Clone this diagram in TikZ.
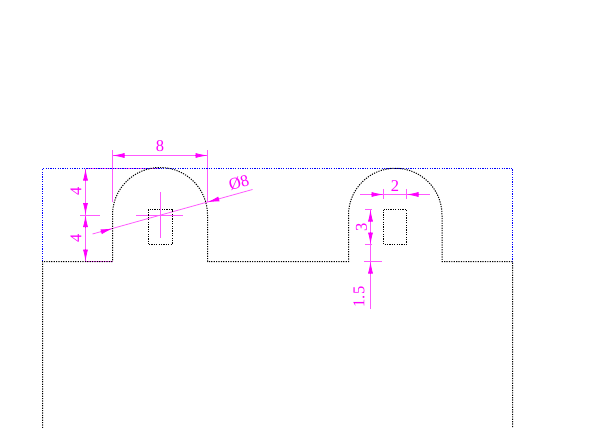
\documentclass[tikz,border=0pt]{standalone}
\usepackage{fontspec}
\setmainfont{Liberation Serif}
\usetikzlibrary{arrows.meta}
\definecolor{dimcolor}{RGB}{255,0,255}
\definecolor{dimpale}{RGB}{255,90,255}
\definecolor{partblue}{RGB}{0,0,255}
\tikzset{part line/.style={black,line width=1pt,dash pattern=on 1.2pt off 1.2pt},
	top line/.style={partblue,line width=1pt,dash pattern=on 1.2pt off 1.2pt},
	dim line/.style={dimpale,line width=0.8pt},
	dim tip/.style={dimcolor,line width=0.8pt,-{Latex[length=12pt,width=5pt]}},
	dim text/.style={dimcolor,font=\fontsize{16.5}{16.5}\selectfont,inner sep=0pt},
}

\begin{document}
\begin{tikzpicture}[x=1pt,y=-1pt]
	\useasboundingbox (0,0) rectangle (600,428);
	\coordinate (tl) at (42.5,168.5);
	\coordinate (tr) at (512.5,168.5);
	\coordinate (ml) at (42.5,261.5);
	\coordinate (mr) at (512.5,261.5);
	\coordinate (bl) at (42.5,428);
	\coordinate (br) at (512.5,428);

	% centre marks
	\draw[dim line] (136,215) -- (183,215);
	\draw[dim line] (160,192) -- (160,238);

	% width of the left arc
	\draw[dim line] (112.5,150) -- (112.5,202);
	\draw[dim line] (207.5,150) -- (207.5,202);
	\draw[dim line] (112.5,155.5) -- (207.5,155.5);
	\draw[dim tip] (125,155.5) -- (112.5,155.5);
	\draw[dim tip] (195,155.5) -- (207.5,155.5);
	\node[dim text] (t8) at (160,146) {8};

	% heights on the left
	\draw[dim line] (85.5,168.5) -- (160,168.5);
	\draw[dim line] (85.5,168.5) -- (85.5,261.5);
	\draw[dim line] (80,215) -- (99.5,215);
	\draw[dim line] (85.5,261.5) -- (112.5,261.5);
	\draw[dim tip] (85.5,181) -- (85.5,168.5);
	\draw[dim tip] (85.5,203) -- (85.5,215);
	\draw[dim tip] (85.5,227) -- (85.5,215);
	\draw[dim tip] (85.5,249) -- (85.5,261.5);
	\node[dim text,rotate=90] (t4a) at (76,191) {4};
	\node[dim text,rotate=90] (t4b) at (76,238) {4};

	% diameter
	\coordinate (d1) at (92.5,234);
	\coordinate (d2) at (252.5,189.5);
	\draw[dim line] (d1) -- (d2);
	\draw[dim tip] (100.6,231.9) -- (112.7,228.5);
	\draw[dim tip] (219.2,198.9) -- (207.3,202.2);
	\node[dim text,rotate=15.5] (tdia) at (239,183) {Ø8};

	% width of the right slot
	\draw[dim line] (360,194.5) -- (430,194.5);
	\draw[dim line] (383.5,189) -- (383.5,199);
	\draw[dim line] (406.5,189) -- (406.5,199);
	\draw[dim tip] (371,194.5) -- (383.5,194.5);
	\draw[dim tip] (419,194.5) -- (406.5,194.5);
	\node[dim text] (t2) at (395,186) {2};

	% heights on the right
	\draw[dim line] (370.5,209.5) -- (370.5,309);
	\draw[dim line] (365,209.5) -- (372,209.5);
	\draw[dim line] (365,244.5) -- (372,244.5);
	\draw[dim line] (364,261.5) -- (382,261.5);
	\draw[dim tip] (370.5,222) -- (370.5,209.5);
	\draw[dim tip] (370.5,232) -- (370.5,244.5);
	\draw[dim tip] (370.5,274) -- (370.5,261.5);
	\node[dim text,rotate=90] (t3) at (361.5,227) {3};
	\node[dim text,rotate=90] (t15) at (359,297) {1.5};

	% outline
	\draw[top line] (ml) -- (tl) -- (tr) -- (mr);
	\draw[part line] (bl) -- (ml) -- (112.5,261.5) -- (112.5,215)
		arc[start angle=180,end angle=0,radius=47.5pt] -- (207.5,261.5) -- (348.5,261.5) -- (348.5,215)
		arc[start angle=180,end angle=0,radius=46.75pt] -- (442,261.5) -- (mr) -- (br);
	\draw[part line] (148,209.5) rectangle (172,244.5);
	\draw[part line] (383.5,209.5) rectangle (406.5,244.5);
\end{tikzpicture}
\end{document}
